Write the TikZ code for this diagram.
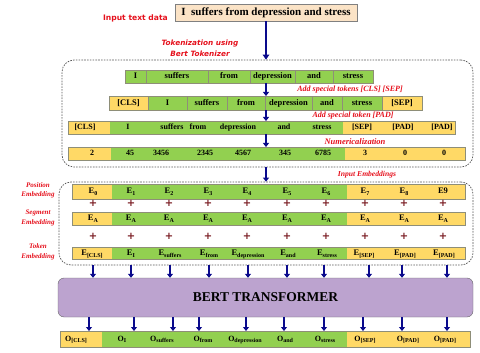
\documentclass[tikz,border=0pt]{standalone}
\usepackage{fontspec}
\setmainfont{Liberation Serif}
\newfontfamily\labfont{DejaVu Sans}
\usetikzlibrary{positioning,arrows.meta}
\definecolor{tokgreen}{HTML}{92D050}
\definecolor{tokyellow}{HTML}{FFD966}
\definecolor{inpeach}{HTML}{FBE3C6}
\definecolor{bertpurple}{HTML}{BCA3CF}
\definecolor{arrblue}{HTML}{0A0A8C}
\definecolor{plusred}{HTML}{7A1C22}
\definecolor{labred}{HTML}{E5101C}
\definecolor{rowline}{HTML}{8E8E78}
\newcommand\esub[1]{\raisebox{-0.45ex}{\fontsize{6}{6}\selectfont #1}}

\begin{document}
\begin{tikzpicture}[x=1pt, y=-1pt,
        node distance=0pt,
        inbox/.style={draw=gray, fill=inpeach, minimum width=182pt,
                      minimum height=17pt, inner sep=0pt,
                      font=\fontsize{11}{13}\selectfont\bfseries},
        cell/.style={draw=rowline, fill=tokgreen, outer sep=0pt, inner sep=0pt,
                     text height=6pt, text depth=1.5pt,
                     font=\fontsize{8.5}{10}\selectfont\bfseries},
        ycell/.style={cell, fill=tokyellow},
        rowbox/.style={draw=rowline, outer sep=0pt, inner sep=0pt},
        txt/.style={inner sep=0pt, text height=6pt, text depth=1.5pt,
                    font=\fontsize{8}{9}\selectfont\bfseries},
        etxt/.style={inner sep=0pt, text height=6.5pt, text depth=2pt,
                     font=\fontsize{8.5}{10}\selectfont\bfseries},
        redlab/.style={text=labred, inner sep=0pt, align=center,
                       font=\fontsize{8}{9.5}\selectfont\bfseries\itshape},
        sidelab/.style={redlab, font=\fontsize{7}{9.5}\selectfont\bfseries\itshape},
        redsans/.style={text=labred, inner sep=0pt, align=center,
                        font=\labfont\fontsize{7.6}{11}\selectfont\bfseries},
        dashbox/.style={draw=gray!70!black, dash pattern=on 1.6pt off 1.2pt,
                        rounded corners=12pt, line width=0.7pt, inner sep=0pt},
        plus/.style={text=plusred, inner sep=0pt,
                     font=\labfont\fontsize{10}{10}\selectfont\bfseries},
        arr/.style={draw=arrblue, line width=2.4pt, -{Triangle[length=5pt,width=6.5pt]}},
        sarr/.style={draw=arrblue, line width=2.4pt, -{Triangle[length=4pt,width=6pt]}}
    ]
        \useasboundingbox (0,0) rectangle (480,353);

        \node[inbox] (inp) at (266,12.5) {I\ \ suffers from depression and stress};
        \node[redsans, anchor=base east] (inlab) at (168,20.5) {Input text data};
        \node[redsans, font=\labfont\fontsize{7.3}{11}\selectfont\bfseries\itshape]
            (toklab) at (200,48) {Tokenization using\\Bert Tokenizer};

        \node[dashbox, minimum width=411pt, minimum height=107pt] (tokbox) at (267.5,113.5) {};

        % words
        \node[cell, minimum width=21pt, minimum height=13pt, anchor=west] (ta1) at (125,76.5) {I};
        \node[cell, minimum width=62pt, minimum height=13pt, right=of ta1] (ta2) {suffers};
        \node[cell, minimum width=42pt, minimum height=13pt, right=of ta2] (ta3) {from};
        \node[cell, minimum width=45pt, minimum height=13pt, right=of ta3] (ta4) {depression};
        \node[cell, minimum width=38pt, minimum height=13pt, right=of ta4] (ta5) {and};
        \node[cell, minimum width=40pt, minimum height=13pt, right=of ta5] (ta6) {stress};

        % with [CLS] and [SEP]
        \node[ycell, minimum width=39pt, minimum height=14pt, anchor=west] (tb1) at (109,103) {[CLS]};
        \node[cell, minimum width=39pt, minimum height=14pt, right=of tb1] (tb2) {I};
        \node[cell, minimum width=40pt, minimum height=14pt, right=of tb2] (tb3) {suffers};
        \node[cell, minimum width=38pt, minimum height=14pt, right=of tb3] (tb4) {from};
        \node[cell, minimum width=47pt, minimum height=14pt, right=of tb4] (tb5) {depression};
        \node[cell, minimum width=30pt, minimum height=14pt, right=of tb5] (tb6) {and};
        \node[cell, minimum width=40pt, minimum height=14pt, right=of tb6] (tb7) {stress};
        \node[ycell, minimum width=40pt, minimum height=14pt, right=of tb7] (tb8) {[SEP]};

        % with [PAD]
        \fill[tokyellow] (68,121) rectangle (110,134);
        \fill[tokgreen] (110,121) rectangle (343,134);
        \fill[tokyellow] (343,121) rectangle (455,134);
        \node[rowbox, minimum width=387pt, minimum height=13pt] (tokc) at (261.5,127.5) {};
        \foreach \x/\t [count=\i] in {85/{[CLS]},128/I,172/suffers,198/from,238/depression,
                284/and,322/stress,362/{[SEP]},403/{[PAD]},442/{[PAD]}}
            \node[txt] (tc\i) at (\x,127.5) {\t};

        % ids
        \fill[tokyellow] (68,147) rectangle (111,160);
        \fill[tokgreen] (111,147) rectangle (345,160);
        \fill[tokyellow] (345,147) rectangle (465,160);
        \node[rowbox, minimum width=397pt, minimum height=13pt] (numa) at (266.5,153.5) {};
        \foreach \x/\t [count=\i] in {92/2,130/45,161/3456,205/2345,243/4567,
                285/345,323/6785,365/3,405/0,444/0}
            \node[txt] (nm\i) at (\x,153.5) {\t};

        \node[redlab] (cslab) at (350,90) {Add special tokens [CLS] [SEP]};
        \node[redlab] (padlab) at (353,116) {Add special token [PAD]};
        \node[redlab, font=\fontsize{8.5}{9.5}\selectfont\bfseries\itshape] (numlab) at (355,142) {Numericalization};
        \node[redlab, font=\fontsize{7.6}{9.5}\selectfont\bfseries\itshape] (emblab) at (367,175) {Input Embeddings};

        \draw[arr] (inp) -- (inp |- tokbox.north);
        \draw[sarr] (inp.south |- ta1.south) -- (inp.south |- tb1.north);
        \draw[sarr] (inp.south |- tb1.south) -- (inp.south |- tokc.north);
        \draw[sarr] (inp.south |- tokc.south) -- (inp.south |- numa.north);

        % embeddings
        \node[dashbox, minimum width=414pt, minimum height=83pt] (embbox) at (266,223.5) {};
        \draw[sarr] (inp.south |- tokbox.south) -- (inp.south |- embbox.north);

        \fill[tokyellow] (72,184) rectangle (112,199);
        \fill[tokgreen] (112,184) rectangle (347,199);
        \fill[tokyellow] (347,184) rectangle (465,199);
        \node[rowbox, minimum width=393pt, minimum height=15pt] (posa) at (268.5,191.5) {};

        \fill[tokyellow] (72,212) rectangle (112,225);
        \fill[tokgreen] (112,212) rectangle (347,225);
        \fill[tokyellow] (347,212) rectangle (465,225);
        \node[rowbox, minimum width=393pt, minimum height=13pt] (sega) at (268.5,218.5) {};

        \fill[tokyellow] (72,247) rectangle (112,259);
        \fill[tokgreen] (112,247) rectangle (347,259);
        \fill[tokyellow] (347,247) rectangle (465,259);
        \node[rowbox, minimum width=393pt, minimum height=12pt] (toke) at (268.5,253) {};

        \foreach \x/\t [count=\i] in {93/0,131/1,169/2,208/3,247/4,287/5,326/6,365/7,404/8}
            \node[etxt] (pe\i) at (\x,191.5) {E\esub{\t}};
        \node[etxt] (pe10) at (443,191.5) {E9};
        \foreach \x [count=\i] in {93,131,169,208,247,287,326,365,404,443} {
            \node[etxt] (se\i) at (\x,218.5) {E\esub{A}};
            \node[plus] (pa\i) at (\x,203.5) {+};
            \node[plus] (pb\i) at (\x,236) {+};
        }
        \foreach \x/\t [count=\i] in {92/{[CLS]},131/I,170/suffers,209/from,248/depression,
                288/and,327/stress,364/{[SEP]},405/{[PAD]},444/{[PAD]}}
            \node[etxt] (te\i) at (\x,253) {E\esub{\t}};

        \node[sidelab] (poslab) at (38,190.5) {Position\\Embedding};
        \node[sidelab] (seglab) at (38,218) {Segment\\Embedding};
        \node[sidelab] (toklab2) at (38,252) {Token\\Embedding};

        % transformer
        \node[draw=gray!80!black, fill=bertpurple, rounded corners=6pt, minimum width=415pt,
              minimum height=39pt, font=\fontsize{13.5}{15}\selectfont\bfseries]
            (bert) at (265.5,297.5) {BERT TRANSFORMER};
        \foreach \x [count=\i] in {93,131,170,209,248,287,324,369,402,447} {
            \coordinate (bi\i) at (\x,265);
            \draw[sarr] (bi\i) -- (bi\i |- bert.north);
        }

        % outputs
        \fill[tokyellow] (60,331) rectangle (102,347);
        \fill[tokgreen] (102,331) rectangle (347,347);
        \fill[tokyellow] (347,331) rectangle (470,347);
        \node[rowbox, minimum width=410pt, minimum height=16pt] (outa) at (265,339) {};
        \foreach \x/\t [count=\i] in {76/{[CLS]},122/I,162/suffers,203/from,245/depression,
                285/and,325/stress,365/{[SEP]},408/{[PAD]},445/{[PAD]}}
            \node[etxt, font=\fontsize{8}{9}\selectfont\bfseries] (ou\i) at (\x,339) {O\esub{\t}};
        \foreach \x [count=\i] in {89,134,173,199,246,284,324,363,402,447} {
            \coordinate (bo\i) at (\x,317);
            \draw[sarr] (bo\i) -- (bo\i |- outa.north);
        }
    \end{tikzpicture}
\end{document}
